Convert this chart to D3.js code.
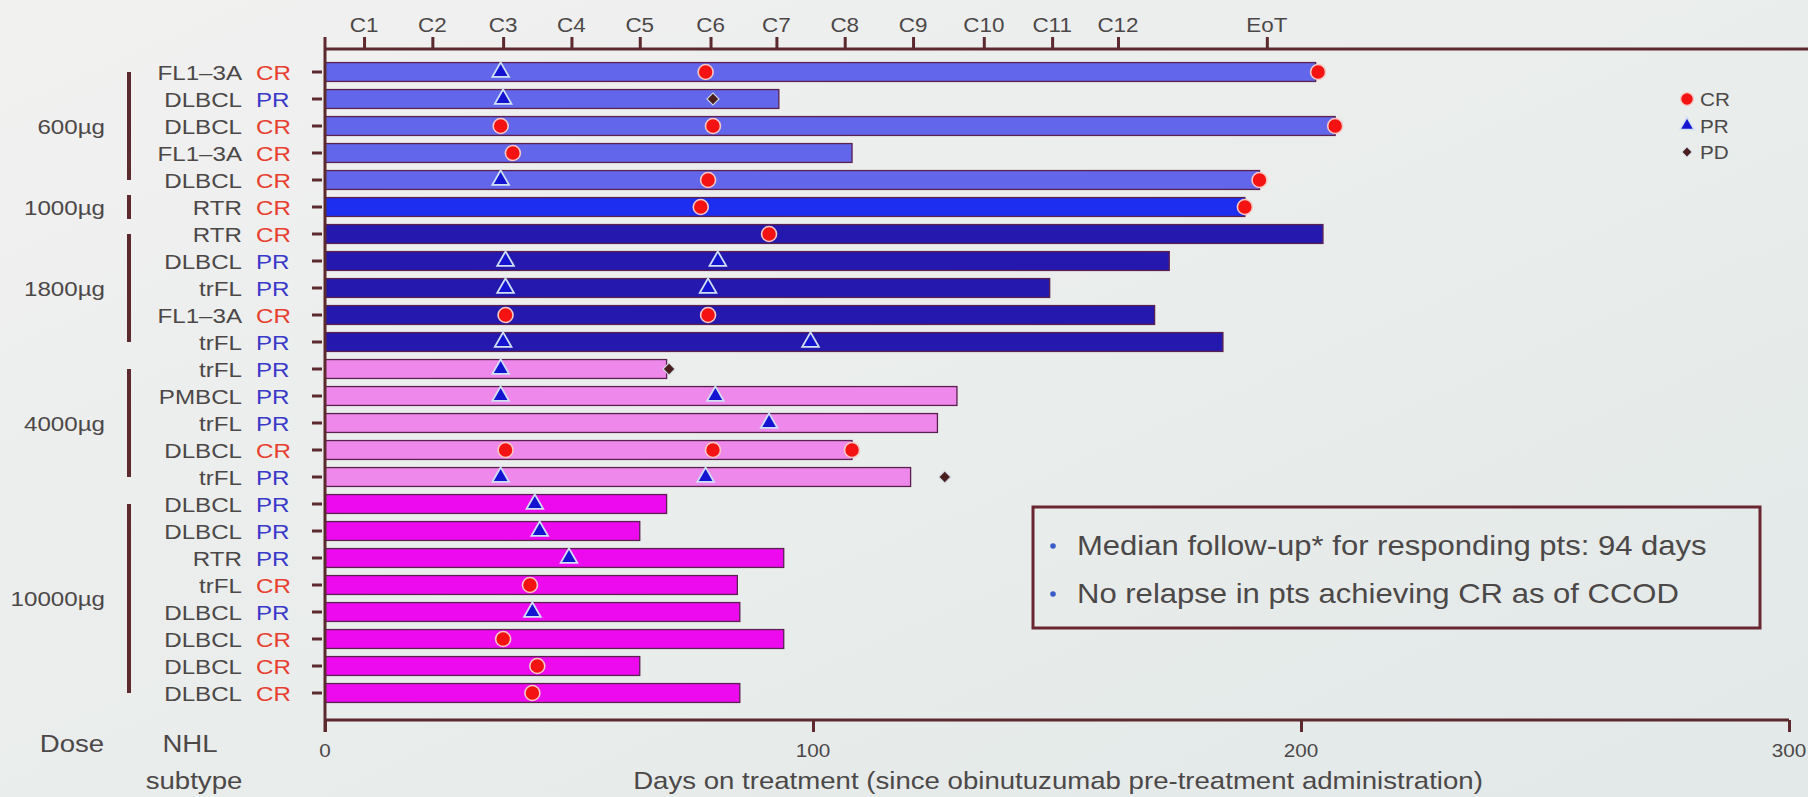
<!DOCTYPE html>
<html>
<head>
<meta charset="utf-8">
<script src="https://cdn.jsdelivr.net/npm/d3@7"></script>
<style>
  html, body { margin: 0; padding: 0; }
  body { width: 1808px; height: 797px; overflow: hidden; }
  svg { display: block; }
</style>
</head>
<body>
<svg id="chart" width="1808" height="797"></svg>
<script>
// ---------------- DATA ----------------
const subtypes = ["FL1–3A","DLBCL","DLBCL","FL1–3A","DLBCL","RTR","RTR","DLBCL","trFL","FL1–3A","trFL",
                  "trFL","PMBCL","trFL","DLBCL","trFL","DLBCL","DLBCL","RTR","trFL","DLBCL","DLBCL","DLBCL","DLBCL"];
const bestResponse = ["CR","PR","CR","CR","CR","CR","CR","PR","PR","CR","PR",
                      "PR","PR","PR","CR","PR","PR","PR","PR","CR","PR","CR","CR","CR"];
const doseOfRow = ["600µg","600µg","600µg","600µg","600µg","1000µg","1800µg","1800µg","1800µg","1800µg","1800µg",
                   "4000µg","4000µg","4000µg","4000µg","4000µg","10000µg","10000µg","10000µg","10000µg","10000µg","10000µg","10000µg","10000µg"];
const doseGroups = ["600µg","1000µg","1800µg","4000µg","10000µg"];
const daysOnTreatment = [203,93,207,108,191.5,188.5,204.5,173,148.5,170,184,
                         70,129.5,125.5,108,120,70,64.5,94,84.5,85,94,64.5,85];
// assessments: [day, response] per row
const assessments = [
  [[36,"PR"],[78,"CR"],[203.5,"CR"]],
  [[36.5,"PR"],[79.5,"PD"]],
  [[36,"CR"],[79.5,"CR"],[207,"CR"]],
  [[38.5,"CR"]],
  [[36,"PR"],[78.5,"CR"],[191.5,"CR"]],
  [[77,"CR"],[188.5,"CR"]],
  [[91,"CR"]],
  [[37,"PR"],[80.5,"PR"]],
  [[37,"PR"],[78.5,"PR"]],
  [[37,"CR"],[78.5,"CR"]],
  [[36.5,"PR"],[99.5,"PR"]],
  [[36,"PR"],[70.5,"PD"]],
  [[36,"PR"],[80,"PR"]],
  [[91,"PR"]],
  [[37,"CR"],[79.5,"CR"],[108,"CR"]],
  [[36,"PR"],[78,"PR"],[127,"PD"]],
  [[43,"PR"]],
  [[44,"PR"]],
  [[50,"PR"]],
  [[42,"CR"]],
  [[42.5,"PR"]],
  [[36.5,"CR"]],
  [[43.5,"CR"]],
  [[42.5,"CR"]]
];
const cycleLabels = ["C1","C2","C3","C4","C5","C6","C7","C8","C9","C10","C11","C12","EoT"];
const cycleDays = [8,22,36.5,50.5,64.5,79,92.5,106.5,120.5,135,149,162.5,193];
const xTicks = [0,100,200,300];
const legendItems = ["CR","PR","PD"];
const notes = ["Median follow-up* for responding pts: 94 days","No relapse in pts achieving CR as of CCOD"];

// ---------------- STYLE ----------------
const FONT = "'Liberation Sans', Arial, Helvetica, sans-serif";
const SX = 1.15;            // horizontal stretch of the projected slide text
const TEXT = "#4c4848";
const AXIS = "#5c2a2e";
const RESP_TEXT = {CR:"#e8402e", PR:"#3a3ac8"};
const DOSE_FILL = {"600µg":"#6266ea","1000µg":"#1e2ef0","1800µg":"#2418ae","4000µg":"#ee88ea","10000µg":"#ee0aee"};

const svg = d3.select("#chart");
const defs = svg.append("defs");
const grad = defs.append("linearGradient").attr("id","bg").attr("x1","0").attr("y1","0").attr("x2","1").attr("y2","1");
grad.append("stop").attr("offset","0").attr("stop-color","#f1f1f0");
grad.append("stop").attr("offset","1").attr("stop-color","#e2e9e8");
svg.append("rect").attr("width",1808).attr("height",797).attr("fill","url(#bg)");

const rows = d3.range(subtypes.length);
const x = d3.scaleLinear().domain([0,300]).range([325,1789]);
const y = d3.scaleBand().domain(rows).range([58.5,706.5]).paddingInner(0.3).paddingOuter(0.15);
const yc = i => y(i) + y.bandwidth()/2;

function txt(g, px, py, str, size, color, anchor, weight) {
  return g.append("text")
    .attr("transform", `translate(${px},${py}) scale(${SX},1)`)
    .attr("font-family", FONT).attr("font-size", size)
    .attr("fill", color).attr("text-anchor", anchor || "start")
    .attr("font-weight", weight || "normal")
    .text(str);
}

// ---------------- BARS ----------------
svg.append("g").selectAll("rect").data(rows).join("rect")
  .attr("x", x(0)).attr("y", i => y(i))
  .attr("width", i => x(daysOnTreatment[i]) - x(0))
  .attr("height", y.bandwidth())
  .attr("fill", i => DOSE_FILL[doseOfRow[i]])
  .attr("stroke", "#5a2050").attr("stroke-width", 1.3);

// ---------------- AXES ----------------
// top cycle axis
const xTop = d3.axisTop(x).tickValues(cycleDays).tickFormat((d,i)=>cycleLabels[i]).tickSize(12).tickSizeOuter(0);
const gTop = svg.append("g").attr("transform","translate(0,49)").call(xTop);
gTop.select(".domain").remove();
gTop.selectAll(".tick line").attr("stroke",AXIS).attr("stroke-width",3);
gTop.selectAll(".tick text").remove();
cycleDays.forEach((d,i)=> txt(svg, x(d), 32, cycleLabels[i], 19.5, TEXT, "middle"));
svg.append("line").attr("x1",x(0)).attr("x2",1808).attr("y1",49).attr("y2",49).attr("stroke",AXIS).attr("stroke-width",3);

// bottom axis
const xBot = d3.axisBottom(x).tickValues(xTicks).tickSize(12).tickSizeOuter(0);
const gBot = svg.append("g").attr("transform","translate(0,720)").call(xBot);
gBot.select(".domain").remove();
gBot.selectAll(".tick line").attr("stroke",AXIS).attr("stroke-width",3);
gBot.selectAll(".tick text").remove();
xTicks.forEach(d => txt(svg, x(d), 757, String(d), 18, TEXT, "middle"));
svg.append("line").attr("x1",x(0)).attr("x2",x(300)).attr("y1",720).attr("y2",720).attr("stroke",AXIS).attr("stroke-width",3);

// left axis with row ticks
const yAx = d3.axisLeft(y).tickSize(10).tickFormat("");
const gL = svg.append("g").attr("transform",`translate(${x(0)-3},0)`).call(yAx);
gL.select(".domain").remove();
gL.selectAll(".tick line").attr("stroke",AXIS).attr("stroke-width",3);
svg.append("line").attr("x1",x(0)).attr("x2",x(0)).attr("y1",37).attr("y2",732).attr("stroke",AXIS).attr("stroke-width",3);

// row labels
rows.forEach(i => {
  txt(svg, 242, yc(i)+7.5, subtypes[i], 21, TEXT, "end");
  txt(svg, 256, yc(i)+7.5, bestResponse[i], 21, RESP_TEXT[bestResponse[i]], "start");
});

// dose brackets + labels
doseGroups.forEach(dg => {
  const idx = rows.filter(i => doseOfRow[i] === dg);
  let y1 = yc(idx[0]), y2 = yc(idx[idx.length-1]);
  if (idx.length === 1) { y1 -= 12; y2 += 12; }
  svg.append("line").attr("x1",129).attr("x2",129).attr("y1",y1).attr("y2",y2)
    .attr("stroke",AXIS).attr("stroke-width",4);
  txt(svg, 105, (yc(idx[0]) + yc(idx[idx.length-1]))/2 + 7.5, dg, 21, TEXT, "end");
});

// ---------------- MARKERS ----------------
const gm = svg.append("g");
function marker(g, cx, cy, type, scale) {
  const s = scale || 1;
  if (type === "CR") {
    g.append("circle").attr("cx",cx).attr("cy",cy).attr("r",7.5*s)
      .attr("fill","#f41212").attr("stroke","#f6c8c4").attr("stroke-width",1.6*s);
  } else if (type === "PR") {
    g.append("path").attr("d", d3.symbol(d3.symbolTriangle, 120*s*s)())
      .attr("transform",`translate(${cx},${cy})`)
      .attr("fill","#1414d0").attr("stroke","#cfe0f4").attr("stroke-width",1.8*s);
  } else {
    g.append("path").attr("d", d3.symbol(d3.symbolSquare, 72*s*s)())
      .attr("transform",`translate(${cx},${cy}) rotate(45)`)
      .attr("fill","#4a1e1e").attr("stroke","#cfd8e0").attr("stroke-width",1.2*s);
  }
}
rows.forEach(i => assessments[i].forEach(([d,t]) => marker(gm, x(d), yc(i), t)));

// legend
legendItems.forEach((t,k) => {
  const ly = 99 + k*26.5;
  marker(svg, 1687, ly, t, 0.85);
  txt(svg, 1700, ly+7, t, 18, TEXT, "start");
});

// note box
svg.append("rect").attr("x",1033).attr("y",507).attr("width",727).attr("height",121)
  .attr("fill","none").attr("stroke","#6a2630").attr("stroke-width",3);
notes.forEach((n,k) => {
  const ny = 555 + k*48;
  svg.append("circle").attr("cx",1053).attr("cy",ny-9).attr("r",2.8).attr("fill","#3a5cc8");
  txt(svg, 1077, ny, n, 27, TEXT, "start");
});

// axis titles
txt(svg, 1058, 789, "Days on treatment (since obinutuzumab pre-treatment administration)", 24, TEXT, "middle");
txt(svg, 72, 752, "Dose", 24, TEXT, "middle");
txt(svg, 190, 752, "NHL", 24, TEXT, "middle");
txt(svg, 194, 789, "subtype", 24, TEXT, "middle");
</script>
</body>
</html>
